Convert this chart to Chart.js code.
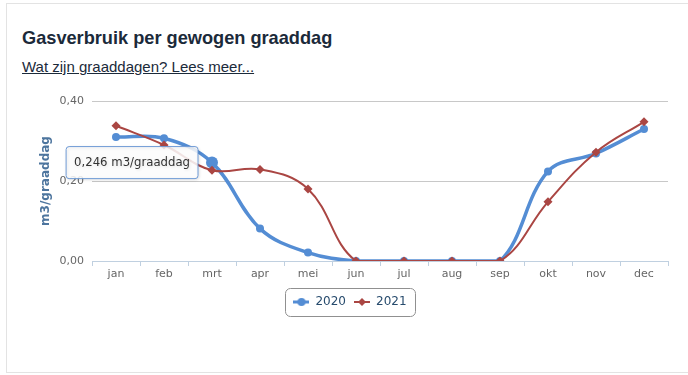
<!DOCTYPE html>
<html><head><meta charset="utf-8">
<script src="https://cdn.jsdelivr.net/npm/chart.js@4.4.1/dist/chart.umd.min.js"></script>
<style>
html,body{margin:0;padding:0;background:#fff;width:688px;height:375px;overflow:hidden;}
.card{position:absolute;left:6px;top:3px;width:700px;height:368px;border:1px solid #e3e3e3;}
h2{position:absolute;left:22px;top:28px;margin:0;font:bold 18.2px "Liberation Sans",Arial,sans-serif;color:#1b2a3a;white-space:nowrap;}
a.more{position:absolute;left:22px;top:58px;font:15px "Liberation Sans",Arial,sans-serif;color:#1b2a3a;text-decoration:underline;white-space:nowrap;}
#wrap{position:absolute;left:0;top:85px;width:688px;height:290px;}
</style></head>
<body>
<div class="card"></div>
<h2>Gasverbruik per gewogen graaddag</h2>
<a class="more" href="#">Wat zijn graaddagen? Lees meer...</a>
<div id="wrap"><canvas id="c"></canvas></div>
<script>
const months = ['jan','feb','mrt','apr','mei','jun','jul','aug','sep','okt','nov','dec'];
const values2020 = [0.310,0.307,0.246,0.081,0.021,0,0,0,0,0.224,0.269,0.330];
const values2021 = [0.338,0.290,0.227,0.229,0.180,0,0,0,0,0.148,0.272,0.348];
const yTicks = [0, 0.2, 0.4];
const seriesNames = ['2020','2021'];
const unit = 'm3/graaddag';

const BLUE = '#548dd4', RED = '#aa4643';
const FONT = '"DejaVu Sans", Verdana, sans-serif';

function legendIcon(color, lw, style) {
  const c = document.createElement('canvas'); c.width = 16; c.height = 12;
  const g = c.getContext('2d');
  g.strokeStyle = color; g.lineWidth = lw;
  g.beginPath(); g.moveTo(0, 6); g.lineTo(16, 6); g.stroke();
  g.fillStyle = color; g.beginPath();
  if (style === 'circle') g.arc(8, 6, 4, 0, Math.PI * 2);
  else { g.moveTo(8, 2); g.lineTo(12, 6); g.lineTo(8, 10); g.lineTo(4, 6); g.closePath(); }
  g.fill();
  return c;
}
const icons = [legendIcon(BLUE, 3, 'circle'), legendIcon(RED, 2, 'diamond')];

Chart.Tooltip.positioners.pointLeft = function(items) {
  if (!items.length) return false;
  const el = items[0].element;
  return {x: el.x, y: el.y};
};

const fmt = v => v.toFixed(2).replace('.', ',');
const fmt3 = v => v.toFixed(3).replace('.', ',');

const legendBorder = {
  id: 'legendBorder',
  afterDraw(chart) {
    const lg = chart.legend;
    if (!lg || !lg.legendHitBoxes.length) return;
    const hb = lg.legendHitBoxes;
    const l = Math.min(...hb.map(h => h.left)) - 8;
    const r = Math.max(...hb.map(h => h.left + h.width)) + 9;
    const cy = hb[0].top + hb[0].height / 2;
    const t = cy - 14, b = cy + 14;
    const ctx = chart.ctx;
    ctx.save();
    ctx.strokeStyle = '#909090'; ctx.lineWidth = 1;
    ctx.beginPath();
    ctx.roundRect(Math.round(l) + 0.5, Math.round(t) + 0.5, Math.round(r - l), Math.round(b - t), 5);
    ctx.stroke();
    ctx.restore();
  }
};

const tipShadow = {
  id: 'tipShadow',
  beforeTooltipDraw(chart) {
    const ctx = chart.ctx; ctx.save();
    ctx.shadowColor = 'rgba(0,0,0,0.12)'; ctx.shadowOffsetX = 1; ctx.shadowOffsetY = 1; ctx.shadowBlur = 3;
  },
  afterTooltipDraw(chart) { chart.ctx.restore(); }
};

const chart = new Chart(document.getElementById('c'), {
  type: 'line',
  data: {
    labels: months,
    datasets: [
      { label: seriesNames[0], data: values2020, borderColor: BLUE, backgroundColor: BLUE,
        borderWidth: 3.5, pointStyle: 'circle', pointRadius: 4, pointBorderWidth: 0,
        pointHoverRadius: 6, pointHoverBorderWidth: 0, pointBackgroundColor: BLUE,
        pointHoverBackgroundColor: BLUE, tension: 0.37, order: 1 },
      { label: seriesNames[1], data: values2021, borderColor: RED, backgroundColor: RED,
        borderWidth: 2, pointStyle: 'rectRot', pointRadius: 4.5, pointBorderWidth: 0,
        pointHoverRadius: 5, pointHoverBorderWidth: 0, pointBackgroundColor: RED,
        tension: 0.4, order: 0 }
    ]
  },
  options: {
    responsive: true, maintainAspectRatio: false, animation: false, events: [],
    layout: { padding: { left: 32, right: 20, top: 16, bottom: 57 } },
    scales: {
      x: {
        offset: true,
        grid: { offset: true, drawOnChartArea: false, drawTicks: true, tickLength: 5, color: '#c0d0e0' },
        border: { color: '#c0d0e0' },
        ticks: { color: '#666', font: { family: FONT, size: 11 }, padding: 2, maxRotation: 0 },
        afterFit(s) { s.height = 27; }
      },
      y: {
        min: 0, max: 0.4,
        afterBuildTicks(s) { s.ticks = yTicks.map(v => ({ value: v })); },
        grid: { color: '#c8c8c8', drawTicks: false },
        border: { display: false },
        ticks: { color: '#666', font: { family: FONT, size: 11 }, padding: 8, callback: v => fmt(v) },
        title: { display: true, text: unit, color: '#4d759e', font: { family: FONT, size: 12, weight: 'bold' }, padding: { top: 7, bottom: 0 } },
        afterFit(s) { s.width = 60; }
      }
    },
    plugins: {
      legend: {
        position: 'bottom',
        labels: {
          usePointStyle: true, pointStyleWidth: 16, boxHeight: 12, padding: 8,
          color: '#274b6d', font: { family: FONT, size: 12 },
          generateLabels(ch) {
            const items = Chart.defaults.plugins.legend.labels.generateLabels(ch);
            items.forEach(it => { it.pointStyle = icons[it.datasetIndex]; it.lineWidth = 0; });
            return items.sort((a, b) => a.datasetIndex - b.datasetIndex);
          }
        }
      },
      tooltip: {
        position: 'pointLeft', xAlign: 'right', yAlign: 'center', caretSize: 0, caretPadding: 14,
        backgroundColor: 'rgba(255,255,255,0.85)', borderColor: '#6f9bd6', borderWidth: 1, cornerRadius: 3,
        displayColors: false, bodyColor: '#333', bodyFont: { family: FONT, size: 11.7 },
        padding: { x: 8, y: 9 },
        callbacks: { title: () => '', label: ctx => fmt3(ctx.parsed.y) + ' ' + unit }
      }
    }
  },
  plugins: [legendBorder, tipShadow]
});
const act = [{ datasetIndex: 0, index: 2 }];
chart.setActiveElements(act);
chart.tooltip.setActiveElements(act, { x: 0, y: 0 });
chart.update();
</script>
</body></html>
